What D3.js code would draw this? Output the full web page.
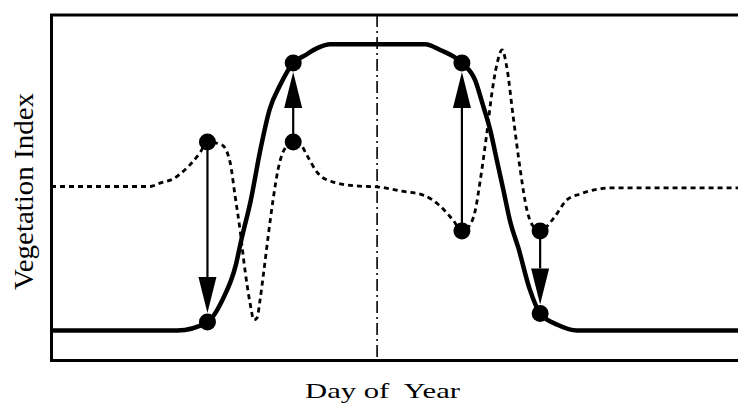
<!DOCTYPE html>
<html>
<head>
<meta charset="utf-8">
<script src="https://cdn.jsdelivr.net/npm/d3@7"></script>
<style>
  html, body { margin: 0; padding: 0; background: #fff; }
  svg { display: block; }
</style>
</head>
<body>
<svg id="chart" width="738" height="403"></svg>
<script>
// ---- data (day of year, vegetation index 0..1) ----
const solidDays = [0, 67, 83, 91, 98, 101, 106, 111, 116, 121.5, 128.5, 135, 141.5, 148, 198.5, 206.5, 218, 225, 229, 233, 236.5, 240, 243.5, 248, 254, 259.5, 269, 279, 365];
const solidVI   = [0.08, 0.08, 0.105, 0.17, 0.27, 0.345, 0.46, 0.605, 0.725, 0.795, 0.86, 0.883, 0.904, 0.915, 0.915, 0.898, 0.86, 0.81, 0.74, 0.665, 0.577, 0.49, 0.40, 0.32, 0.20, 0.13, 0.096, 0.08, 0.08];

const dottedDays = [0, 52.5, 57.8, 64.7, 68.4, 73.7, 79, 83, 90.7, 95, 97.6, 100.3, 102.9, 105.6, 107.7, 109.3, 110.9, 113, 115.1, 117.8, 120.4, 123.6, 128.5, 132.1, 136.3, 141.1, 149.6, 163.9, 172.9, 185.2, 197.4, 206.4, 213.3, 218, 222.3, 224.9, 227.6, 231.3, 234, 236.6, 239.3, 241.9, 245.1, 248.8, 252.5, 255.7, 259.5, 266.3, 273.7, 280.6, 298.2, 365];
const dottedVI   = [0.5, 0.5, 0.51, 0.522, 0.536, 0.563, 0.598, 0.63, 0.621, 0.571, 0.475, 0.373, 0.257, 0.16, 0.111, 0.117, 0.169, 0.257, 0.35, 0.461, 0.548, 0.606, 0.63, 0.624, 0.586, 0.542, 0.513, 0.501, 0.499, 0.487, 0.475, 0.443, 0.402, 0.37, 0.388, 0.426, 0.513, 0.659, 0.776, 0.857, 0.898, 0.845, 0.708, 0.554, 0.431, 0.385, 0.37, 0.405, 0.461, 0.478, 0.496, 0.496];

const arrowDays = [83, 128.5, 218, 259.5];
const arrowFrom = [0.63, 0.63, 0.37, 0.37];
const arrowTo   = [0.105, 0.86, 0.86, 0.13];

const midDay = 173;
const xLabel = "Day of  Year";
const yLabel = "Vegetation Index";

// ---- layout ----
const svg = d3.select("#chart");
const x = d3.scaleLinear().domain([0, 365]).range([51, 739]);
const y = d3.scaleLinear().domain([0, 1]).range([358, 15]);
const frame = { left: 51.5, top: 15, bottom: 360.5, right: 745 };

// frame (left, top, bottom)
svg.append("path")
  .attr("d", `M${frame.right},${frame.top}H${frame.left}V${frame.bottom}H${frame.right}`)
  .attr("fill", "none").attr("stroke", "#000").attr("stroke-width", 3);

// mid-year dash-dot line
svg.append("line")
  .attr("x1", x(midDay)).attr("x2", x(midDay))
  .attr("y1", frame.top).attr("y2", frame.bottom)
  .attr("stroke", "#000").attr("stroke-width", 1.6)
  .attr("stroke-dasharray", "12,4,2,4");

const line = d3.line().x(d => x(d[0])).y(d => y(d[1])).curve(d3.curveMonotoneX);

// dotted (derivative) curve
svg.append("path")
  .attr("d", line(dottedDays.map((d, i) => [d, dottedVI[i]])))
  .attr("fill", "none").attr("stroke", "#000").attr("stroke-width", 2.8)
  .attr("stroke-dasharray", "5,4");

// solid curve
svg.append("path")
  .attr("d", line(solidDays.map((d, i) => [d, solidVI[i]])))
  .attr("fill", "none").attr("stroke", "#000").attr("stroke-width", 4.5)
  .attr("stroke-linejoin", "round");

// arrows
const headLen = 36, headW = 18, tipGap = 9;
arrowDays.forEach((d, i) => {
  const cx = x(d), y1 = y(arrowFrom[i]), y2 = y(arrowTo[i]);
  const dir = Math.sign(y2 - y1);
  const tip = y2 - dir * tipGap;
  const base = tip - dir * headLen;
  svg.append("line")
    .attr("x1", cx).attr("x2", cx).attr("y1", y1).attr("y2", base)
    .attr("stroke", "#000").attr("stroke-width", 2.2);
  const p = d3.path();
  p.moveTo(cx, tip); p.lineTo(cx - headW / 2, base); p.lineTo(cx + headW / 2, base); p.closePath();
  svg.append("path").attr("d", p.toString()).attr("fill", "#000");
});

// points
const pts = [];
arrowDays.forEach((d, i) => { pts.push([d, arrowFrom[i]]); pts.push([d, arrowTo[i]]); });
svg.selectAll("circle.pt").data(pts).enter().append("circle")
  .attr("class", "pt")
  .attr("cx", d => x(d[0])).attr("cy", d => y(d[1])).attr("r", 8.5)
  .attr("fill", "#000");

// labels
const xl = svg.append("g");
const xt = xl.append("text")
  .attr("x", 0).attr("y", 0)
  .attr("text-anchor", "middle")
  .attr("font-family", "'Liberation Serif', 'Times New Roman', serif")
  .attr("font-size", 21)
  .style("white-space", "pre")
  .text(xLabel);
const natW = xt.node().getComputedTextLength() || 110;
xl.attr("transform", `translate(382.5,397.5) scale(${155 / natW},1)`);

const yl = svg.append("g");
const yt = yl.append("text")
  .attr("x", 0).attr("y", 0)
  .attr("text-anchor", "middle")
  .attr("font-family", "'Liberation Serif', 'Times New Roman', serif")
  .attr("font-size", 28)
  .text(yLabel);
const natH = yt.node().getComputedTextLength() || 197;
yl.attr("transform", `translate(32.5,191.5) rotate(-90) scale(${197 / natH},1)`);
</script>
</body>
</html>
